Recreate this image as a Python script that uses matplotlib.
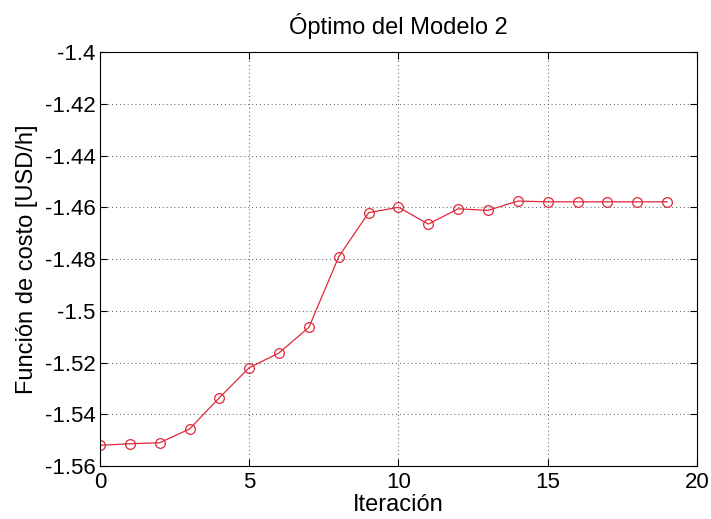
import matplotlib
matplotlib.use("Agg")
import matplotlib.pyplot as plt

iteracion = list(range(20))
costo = [-1.5520, -1.5514, -1.5510, -1.5457, -1.5336, -1.5220, -1.5163,
         -1.5064, -1.4791, -1.4621, -1.4600, -1.4665, -1.4606, -1.4612,
         -1.4576, -1.4579, -1.4579, -1.4579, -1.4579, -1.4579]
x_ticks = [0, 5, 10, 15, 20]
y_ticks = [-1.56, -1.54, -1.52, -1.5, -1.48, -1.46, -1.44, -1.42, -1.4]
y_ticklabels = ['-1.56', '-1.54', '-1.52', '-1.5', '-1.48', '-1.46',
                '-1.44', '-1.42', '-1.4']

plt.rcParams['font.family'] = ['Liberation Sans', 'DejaVu Sans']

fig = plt.figure(figsize=(7.11, 5.19), dpi=100)
ax = fig.add_axes([0.1406, 0.1021, 0.8397, 0.7977])

ax.plot(iteracion, costo, '-o', color='#e0283a', lw=0.9,
        markersize=7, markerfacecolor='none', markeredgewidth=0.9)

ax.set_xlim(0, 20)
ax.set_ylim(-1.56, -1.4)
ax.set_xticks(x_ticks)
ax.set_yticks(y_ticks)
ax.set_yticklabels(y_ticklabels)
ax.grid(True, linestyle=(0, (1, 3)), color='#555555', linewidth=0.7)
ax.tick_params(direction='in', top=True, right=True, labelsize=16,
               length=5)
ax.tick_params(axis='x', pad=4)
ax.tick_params(axis='y', pad=3)
for s in ax.spines.values():
    s.set_linewidth(0.8)

ax.set_title('Óptimo del Modelo 2', fontsize=17, pad=13)
ax.set_xlabel('Iteración', fontsize=17, labelpad=1)
ax.set_ylabel('Función de costo [USD/h]', fontsize=17, labelpad=5)

fig.savefig('out.png', dpi=100)
